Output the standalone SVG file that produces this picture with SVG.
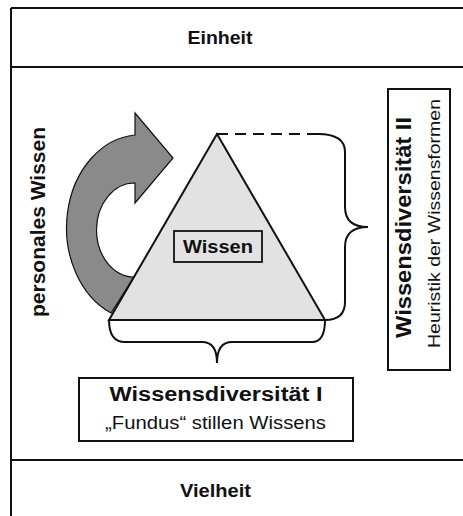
<svg xmlns="http://www.w3.org/2000/svg" width="463" height="516" viewBox="0 0 463 516">
<style>
.ln{stroke:#111;stroke-width:2;fill:none}
.bx{stroke:#111;stroke-width:2;fill:#fff}
.b{font-family:"Liberation Sans",Arial,sans-serif;font-weight:bold;fill:#111}
.r{font-family:"Liberation Sans",Arial,sans-serif;fill:#111}
</style>
<rect width="463" height="516" fill="#fff"/>
<g id="frame">
<line class="ln" x1="11" y1="8" x2="463" y2="8"/>
<line class="ln" x1="11" y1="8" x2="11" y2="516"/>
<line class="ln" x1="11" y1="67" x2="463" y2="67"/>
<line class="ln" x1="11" y1="460" x2="463" y2="460"/>
</g>
<g id="einheit"><text class="b" x="220" y="44" font-size="17.5" text-anchor="middle" textLength="65" lengthAdjust="spacingAndGlyphs">Einheit</text></g>
<g id="vielheit"><text class="b" x="215.5" y="497" font-size="18.5" text-anchor="middle" textLength="71" lengthAdjust="spacingAndGlyphs">Vielheit</text></g>
<g id="personal">
<path d="M135,113 L173,158 L135,203 L135,183 A38,47 0 0,0 134,277 L111,313 A74,93 0 0,1 135,135 Z" fill="#8a8a8a" stroke="#111" stroke-width="1.2"/>
<text class="b" transform="translate(45,222) rotate(-90)" font-size="20" text-anchor="middle" textLength="190" lengthAdjust="spacingAndGlyphs">personales Wissen</text>
</g>
<g id="connectors">
<line class="ln" x1="217" y1="134" x2="318" y2="134" stroke-dasharray="11,7"/>
<path class="ln" d="M318,134 Q345,134 345,152 L345,207 Q345,227 368,227 Q345,227 345,247 L345,302 Q345,320 325,320"/>
<path class="ln" d="M109,320 Q109,342 125,342 L202,342 Q217,342 217,363 Q217,342 232,342 L312,342 Q325,342 325,320"/>
</g>
<g id="triangle">
<polygon points="217,134 109,320 325,320" fill="#e2e2e2" stroke="#111" stroke-width="2" stroke-linejoin="miter"/>
</g>
<g id="wissen">
<rect x="174" y="231" width="88" height="31" fill="#e2e2e2" stroke="#111" stroke-width="1.8"/>
<text class="b" x="218" y="253" font-size="18" text-anchor="middle" textLength="70" lengthAdjust="spacingAndGlyphs">Wissen</text>
</g>
<g id="div1">
<rect class="bx" x="79" y="378" width="274" height="63"/>
<text class="b" x="216" y="401" font-size="19.5" text-anchor="middle" textLength="213" lengthAdjust="spacingAndGlyphs">Wissensdiversität I</text>
<text class="r" x="215.5" y="429" font-size="17.5" text-anchor="middle" textLength="221" lengthAdjust="spacingAndGlyphs">„Fundus“ stillen Wissens</text>
</g>
<g id="div2">
<rect class="bx" x="388" y="89" width="62" height="281"/>
<text class="b" transform="translate(411,227.5) rotate(-90)" font-size="22.5" text-anchor="middle" textLength="221" lengthAdjust="spacingAndGlyphs">Wissensdiversität II</text>
<text class="r" transform="translate(440,223.5) rotate(-90)" font-size="17" text-anchor="middle" textLength="249" lengthAdjust="spacingAndGlyphs">Heuristik der Wissensformen</text>
</g>
</svg>
